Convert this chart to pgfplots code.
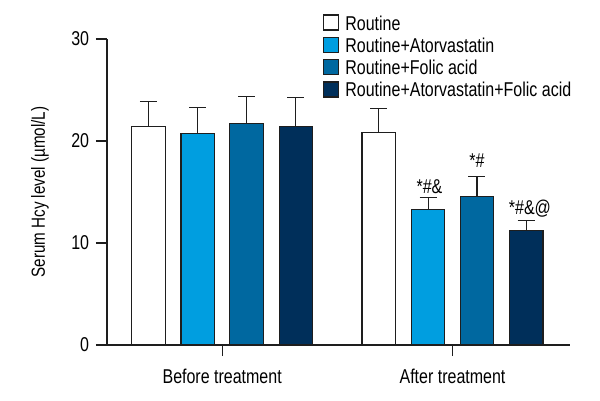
\documentclass[border=0pt]{standalone}
\usepackage{pgfplots}
\pgfplotsset{compat=1.18}
\usepackage{fontspec}
\setmainfont{Liberation Sans}[FakeStretch=0.8]
\definecolor{cA}{RGB}{0,158,224}
\definecolor{cB}{RGB}{0,104,160}
\definecolor{cC}{RGB}{0,47,90}
\definecolor{ol}{RGB}{30,30,30}
\begin{document}
\fontsize{20}{23}\selectfont
\begin{tikzpicture}
\useasboundingbox (0,0) rectangle (600pt,400pt);
\begin{axis}[
  at={(107pt,55pt)}, anchor=south west,
  scale only axis, width=463pt, height=306pt,
  xmin=-0.5, xmax=1.51, ymin=0, ymax=30,
  axis x line*=bottom, axis y line*=left,
  axis line style={line width=1.2pt, draw=ol},
  every tick/.style={line width=1.2pt, draw=ol},
  tick align=outside, major tick length=11pt,
  xtick={0,1}, xticklabels={Before treatment, After treatment},
  xticklabel style={yshift=-6pt},
  ytick={0,10,20,30},
  /pgf/number format/assume math mode=true,
  tick label style={font=\fontsize{20}{23}\selectfont},
  ylabel={Serum Hcy level (µmol/L)},
  ylabel style={at={(axis description cs:-0.145,0.5)}, anchor=center, font=\fontsize{19}{22}\selectfont},
  clip=false,
  legend style={at={(0.4665,1.081)}, anchor=north west, draw=none, fill=none, inner sep=0pt,
     font=\fontsize{20}{23}\selectfont, row sep=2.7pt, column sep=6pt,
     cells={anchor=base west},
     nodes={inner sep=0pt, text height=14pt, text depth=4pt}},
  error bars/y dir=plus, error bars/y explicit,
  error bars/error bar style={line width=1.2pt, draw=ol},
  error bars/error mark options={rotate=90, mark size=8.5pt, line width=1.2pt, draw=ol},
]
\addlegendimage{legend image code/.code={\draw[fill=white,draw=ol,line width=1.2pt] (0pt,0pt) rectangle (15pt,15pt);}}
\addlegendentry{Routine}
\addlegendimage{legend image code/.code={\draw[fill=cA,draw=ol,line width=1.2pt] (0pt,0pt) rectangle (15pt,15pt);}}
\addlegendentry{Routine+Atorvastatin}
\addlegendimage{legend image code/.code={\draw[fill=cB,draw=ol,line width=1.2pt] (0pt,0pt) rectangle (15pt,15pt);}}
\addlegendentry{Routine+Folic acid}
\addlegendimage{legend image code/.code={\draw[fill=cC,draw=ol,line width=1.2pt] (0pt,0pt) rectangle (15pt,15pt);}}
\addlegendentry{Routine+Atorvastatin+Folic acid}

\addplot[ybar, bar width=33.5pt, bar shift=0pt, fill=white, draw=ol, line width=1.2pt, forget plot]
  coordinates {(-0.32,21.4) +- (0,2.45) (0.68,20.8) +- (0,2.4)};
\addplot[ybar, bar width=33.5pt, bar shift=0pt, fill=cA, draw=ol, line width=1.2pt, forget plot]
  coordinates {(-0.106,20.75) +- (0,2.55) (0.894,13.3) +- (0,1.15)};
\addplot[ybar, bar width=33.5pt, bar shift=0pt, fill=cB, draw=ol, line width=1.2pt, forget plot]
  coordinates {(0.106,21.7) +- (0,2.7) (1.106,14.55) +- (0,1.95)};
\addplot[ybar, bar width=33.5pt, bar shift=0pt, fill=cC, draw=ol, line width=1.2pt, forget plot]
  coordinates {(0.32,21.4) +- (0,2.9) (1.32,11.2) +- (0,1.0)};

\node[anchor=base] at (axis cs:0.90,14.9) {*\#\&};
\node[anchor=base] at (axis cs:1.106,17.45) {*\#};
\node[anchor=base] at (axis cs:1.336,12.75) {*\#\&@};
\end{axis}
\end{tikzpicture}
\end{document}
